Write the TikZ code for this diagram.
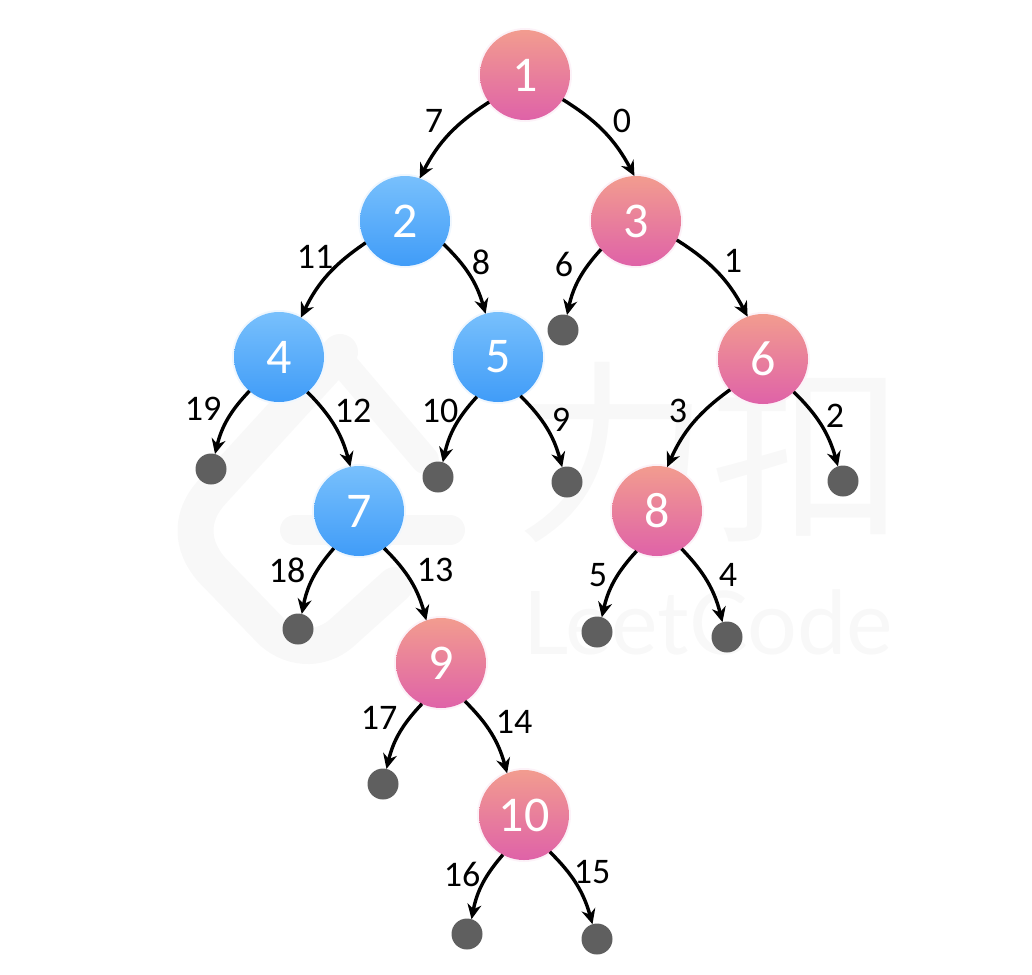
\documentclass[tikz,border=0pt]{standalone}
\usepackage{fontspec}
\setmainfont{Carlito}
\newfontfamily\cjkwm{Noto Sans CJK SC}
\newfontfamily\wmfont{Lato}
\usetikzlibrary{arrows.meta}
\definecolor{wm}{HTML}{F8F8F8}
\definecolor{pinktop}{HTML}{F29C8F}
\definecolor{pinkbot}{HTML}{DF62A8}
\definecolor{bluetop}{HTML}{78C0FC}
\definecolor{bluebot}{HTML}{409CF8}
\definecolor{leafgray}{HTML}{5F5F5F}
\tikzset{
  every node/.style={inner sep=0pt,outer sep=0pt},
  basenode/.style={circle,minimum size=90pt,text=white,font=\fontsize{50}{50}\selectfont},
  pinknode/.style={basenode,top color=pinktop,bottom color=pinkbot,preaction={draw=pinkbot!8,line width=4pt}},
  bluenode/.style={basenode,top color=bluetop,bottom color=bluebot,preaction={draw=bluebot!8,line width=4pt}},
  leafnode/.style={circle,minimum size=31pt,fill=leafgray},
  edgelabel/.style={text=black,font=\fontsize{36}{36}\selectfont},
  edgeline/.style={draw=black,line width=3.4pt,-{Stealth[length=15pt,width=14pt]},bend angle=15},
  wmline/.style={draw=wm,line width=36pt,line cap=round,line join=round}
}
\begin{document}
\begin{tikzpicture}[x=1pt,y=1pt]
\useasboundingbox (0,0) rectangle (1032,-974);
% watermark
\draw[wmline] (340,-352) -- (212,-492) .. controls (190,-516) and (190,-545) .. (212,-570) -- (272,-632) .. controls (295,-652) and (325,-650) .. (345,-630) -- (395,-585);
\draw[wmline,line width=28pt] (340,-360) -- (425,-460);
\draw[wmline,line width=30pt] (295,-530) -- (450,-530);
\node[text=wm,font=\cjkwm\fontsize{196}{196}\selectfont] (wmcn) at (710,-452) {力扣};
\node[text=wm,font=\wmfont\fontsize{88}{88}\selectfont] (wmen) at (708,-622) {LeetCode};
% nodes
\node[pinknode] (n1) at (525,-75) {1};
\node[bluenode] (n2) at (405,-221) {2};
\node[pinknode] (n3) at (636,-221) {3};
\node[bluenode] (n4) at (279,-357) {4};
\node[bluenode] (n5) at (498,-357) {5};
\node[pinknode] (n6) at (763,-359) {6};
\node[bluenode] (n7) at (359,-511) {7};
\node[pinknode] (n8) at (657,-511) {8};
\node[pinknode] (n9) at (441,-663) {9};
\node[pinknode] (n10) at (524,-815) {10};
\node[leafnode] (l3) at (563,-330) {};
\node[leafnode] (l4) at (211,-469) {};
\node[leafnode] (l5a) at (438,-477) {};
\node[leafnode] (l5b) at (567,-482) {};
\node[leafnode] (l6) at (843,-481) {};
\node[leafnode] (l7) at (298,-629) {};
\node[leafnode] (l8a) at (597,-632) {};
\node[leafnode] (l8b) at (727,-637) {};
\node[leafnode] (l9) at (383,-784) {};
\node[leafnode] (l10a) at (467,-934) {};
\node[leafnode] (l10b) at (597,-939) {};
% edges
\draw[edgeline] (n1.217) to[bend right] (n2.71);
\draw[edgeline] (n1.-33) to[bend left] (n3.92);
\draw[edgeline] (n2.209) to[bend right] (n4.61);
\draw[edgeline] (n2.-31) to[bend left] (n5.106);
\draw[edgeline] (n3.219) to[bend right] (l3.75);
\draw[edgeline] (n3.-25) to[bend left] (n6.110);
\draw[edgeline] (n4.229) to[bend right] (l4.75);
\draw[edgeline] (n4.-51) to[bend left] (n7.101);
\draw[edgeline] (n5.242) to[bend right] (l5a.72);
\draw[edgeline] (n5.-60) to[bend left] (l5b.108);
\draw[edgeline] (n6.223) to[bend right] (n8.77);
\draw[edgeline] (n6.-47) to[bend left] (l6.109);
\draw[edgeline] (n7.236) to[bend right] (l7.76);
\draw[edgeline] (n7.-56) to[bend left] (n9.109);
\draw[edgeline] (n8.243) to[bend right] (l8a.72);
\draw[edgeline] (n8.-57) to[bend left] (l8b.107);
\draw[edgeline] (n9.245) to[bend right] (l9.77);
\draw[edgeline] (n9.-58) to[bend left] (n10.112);
\draw[edgeline] (n10.242) to[bend right] (l10a.73);
\draw[edgeline] (n10.-55) to[bend left] (l10b.107);
% labels
\node[edgelabel] (e7) at (434,-121) {7};
\node[edgelabel] (e0) at (622,-121) {0};
\node[edgelabel] (e11) at (315,-257) {11};
\node[edgelabel] (e8) at (481,-262) {8};
\node[edgelabel] (e6) at (564,-264) {6};
\node[edgelabel] (e1) at (733,-261) {1};
\node[edgelabel] (e19) at (203,-409) {19};
\node[edgelabel] (e12) at (353,-411) {12};
\node[edgelabel] (e10) at (440,-411) {10};
\node[edgelabel] (e9) at (561,-420) {9};
\node[edgelabel] (e3) at (678,-411) {3};
\node[edgelabel] (e2) at (835,-416) {2};
\node[edgelabel] (e18) at (287,-570) {18};
\node[edgelabel] (e13) at (435,-570) {13};
\node[edgelabel] (e5) at (598,-575) {5};
\node[edgelabel] (e4) at (728,-575) {4};
\node[edgelabel] (e17) at (379,-718) {17};
\node[edgelabel] (e14) at (514,-722) {14};
\node[edgelabel] (e16) at (462,-874) {16};
\node[edgelabel] (e15) at (592,-872) {15};
\end{tikzpicture}
\end{document}
